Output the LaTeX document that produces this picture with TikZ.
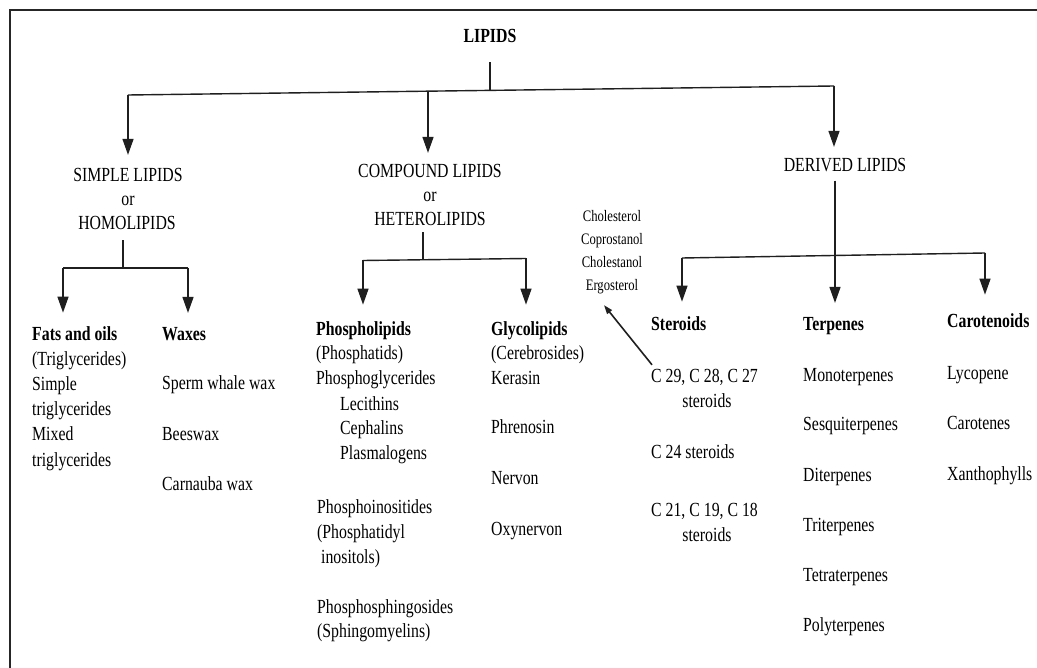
\documentclass[tikz,border=0pt]{standalone}
\usepackage{fontspec}
\setmainfont{Liberation Serif}[FakeStretch=0.79]
\usetikzlibrary{arrows.meta}
\begin{document}
\begin{tikzpicture}[x=1pt,y=-1pt,
  txt/.style={inner sep=0pt, anchor=base west, font=\fontsize{20}{24}\selectfont},
  ctxt/.style={txt, anchor=base},
  hd/.style={txt, font=\fontsize{20}{24}\selectfont\bfseries},
  small/.style={inner sep=0pt, anchor=base, font=\fontsize{16}{20}\selectfont},
  link/.style={line width=1.4pt, draw=black!88},
  arr/.style={link, -{Triangle[length=16pt,width=11pt]}},
  thinarr/.style={line width=1.6pt, draw=black!88, -{Triangle[length=9pt,width=6pt]}},
]
\useasboundingbox (0,0) rectangle (1037,668);
\fill[white] (0,0) rectangle (1037,668);
% frame edges
\draw[line width=2.6pt, black!85] (10,668) -- (10,10) -- (1037,10);

% ---------- top level ----------
\node[hd, anchor=base] (lipids) at (490,43) {LIPIDS};

\node[ctxt] (simple)    at (128,182) {SIMPLE LIPIDS};
\node[ctxt] (simple-or) at (128,206) {or};
\node[ctxt] (homo)      at (127,230) {HOMOLIPIDS};

\node[ctxt] (compound)    at (430,178) {COMPOUND LIPIDS};
\node[ctxt] (compound-or) at (430,202) {or};
\node[ctxt] (hetero)      at (430,226) {HETEROLIPIDS};

\node[ctxt] (derived) at (845,172) {DERIVED LIPIDS};

\coordinate (busL) at (128,95);
\coordinate (busR) at (834,86);
\coordinate (jL)   at (490,90.4);
\coordinate (jC)   at (428,91.2);

\draw[link, shorten <=19pt] (lipids.south) -- (jL);
\draw[link] (busL) -- (busR);
\draw[arr, shorten >=13.7pt] (busL) -- (busL |- simple.north);
\draw[arr, shorten >=11.7pt] (jC) -- (jC |- compound.north);
\draw[arr, shorten >=11.7pt] (busR) -- (busR |- derived.north);

% ---------- simple lipids ----------
\coordinate (sJ) at (123,268);
\coordinate (sL) at (63,268);
\coordinate (sR) at (188,268);
\draw[link, shorten <=10pt] (homo.south -| sJ) -- (sJ);
\draw[link] (sL) -- (sR);

\node[hd]  (fats)   at (32,341) {Fats and oils};
\node[txt] (fats-1) at (32,366) {(Triglycerides)};
\node[txt] (fats-2) at (32,391) {Simple};
\node[txt] (fats-3) at (32,416) {triglycerides};
\node[txt] (fats-4) at (32,441) {Mixed};
\node[txt] (fats-5) at (32,466) {triglycerides};

\node[hd]  (waxes)   at (162,341) {Waxes};
\node[txt] (waxes-1) at (162,390) {Sperm whale wax};
\node[txt] (waxes-2) at (162,440) {Beeswax};
\node[txt] (waxes-3) at (162,490) {Carnauba wax};

\draw[arr, shorten >=14.3pt] (sL) -- (sL |- fats.north);
\draw[arr, shorten >=14.8pt] (sR) -- (sR |- waxes.north);

% ---------- compound lipids ----------
\coordinate (cJ) at (423,260);
\coordinate (cL) at (363,260.5);
\coordinate (cR) at (526,258.5);
\draw[link, shorten <=6pt] (hetero.south -| cJ) -- (cJ);
\draw[link] (cL) -- (cR);

\node[hd]  (phos)    at (316,336) {Phospholipids};
\node[txt] (phos-1)  at (316,360) {(Phosphatids)};
\node[txt] (phos-2)  at (316,385) {Phosphoglycerides};
\node[txt] (phos-3)  at (340,410) {Lecithins};
\node[txt] (phos-4)  at (340,435) {Cephalins};
\node[txt] (phos-5)  at (340,460) {Plasmalogens};
\node[txt] (phos-6)  at (317,513) {Phosphoinositides};
\node[txt] (phos-7)  at (317,538) {(Phosphatidyl};
\node[txt] (phos-8)  at (321,563) {inositols)};
\node[txt] (phos-9)  at (317,613) {Phosphosphingosides};
\node[txt] (phos-10) at (317,637) {(Sphingomyelins)};

\node[hd]  (glyco)   at (491,336) {Glycolipids};
\node[txt] (glyco-1) at (491,360) {(Cerebrosides)};
\node[txt] (glyco-2) at (491,385) {Kerasin};
\node[txt] (glyco-3) at (491,434) {Phrenosin};
\node[txt] (glyco-4) at (491,485) {Nervon};
\node[txt] (glyco-5) at (491,535) {Oxynervon};

\draw[arr, shorten >=17.3pt] (cL) -- (cL |- phos.north);
\draw[arr, shorten >=17.3pt] (cR) -- (cR |- glyco.north);

% ---------- derived lipids ----------
\coordinate (dJ) at (835,255.5);
\coordinate (dL) at (682,258);
\coordinate (dR) at (985,253);
\draw[link, shorten <=8pt] (derived.south -| dJ) -- (dJ);
\draw[link] (dL) -- (dR);

\node[hd]  (ster)   at (651,331) {Steroids};
\node[txt] (ster-1) at (651,383) {C 29, C 28, C 27};
\node[ctxt](ster-2) at (707,408) {steroids};
\node[txt] (ster-3) at (651,458) {C 24 steroids};
\node[txt] (ster-4) at (651,516) {C 21, C 19, C 18};
\node[ctxt](ster-5) at (707,541) {steroids};

\node[hd]  (terp)   at (803,331) {Terpenes};
\node[txt] (terp-1) at (803,382) {Monoterpenes};
\node[txt] (terp-2) at (803,431) {Sesquiterpenes};
\node[txt] (terp-3) at (803,481) {Diterpenes};
\node[txt] (terp-4) at (803,531) {Triterpenes};
\node[txt] (terp-5) at (803,581) {Tetraterpenes};
\node[txt] (terp-6) at (803,631) {Polyterpenes};

\node[hd]  (caro)   at (947,328) {Carotenoids};
\node[txt] (caro-1) at (947,380) {Lycopene};
\node[txt] (caro-2) at (947,430) {Carotenes};
\node[txt] (caro-3) at (947,480) {Xanthophylls};

\draw[arr, shorten >=15.3pt] (dL) -- (dL |- ster.north);
\draw[arr, shorten >=14.8pt] (dJ) -- (dJ |- terp.north);
\draw[arr, shorten >=19.3pt] (dR) -- (dR |- caro.north);

% sterols of the C 29, C 28, C 27 group
\node[small] (chol)  at (612,222) {Cholesterol};
\node[small] (copr)  at (612,245) {Coprostanol};
\node[small] (chln)  at (612,268) {Cholestanol};
\node[small] (ergo)  at (612,291) {Ergosterol};

\draw[thinarr] ([xshift=1pt,yshift=4.7pt]ster-1.north west) -- ([xshift=-8pt,yshift=-10.5pt]ergo.south);
\end{tikzpicture}
\end{document}
